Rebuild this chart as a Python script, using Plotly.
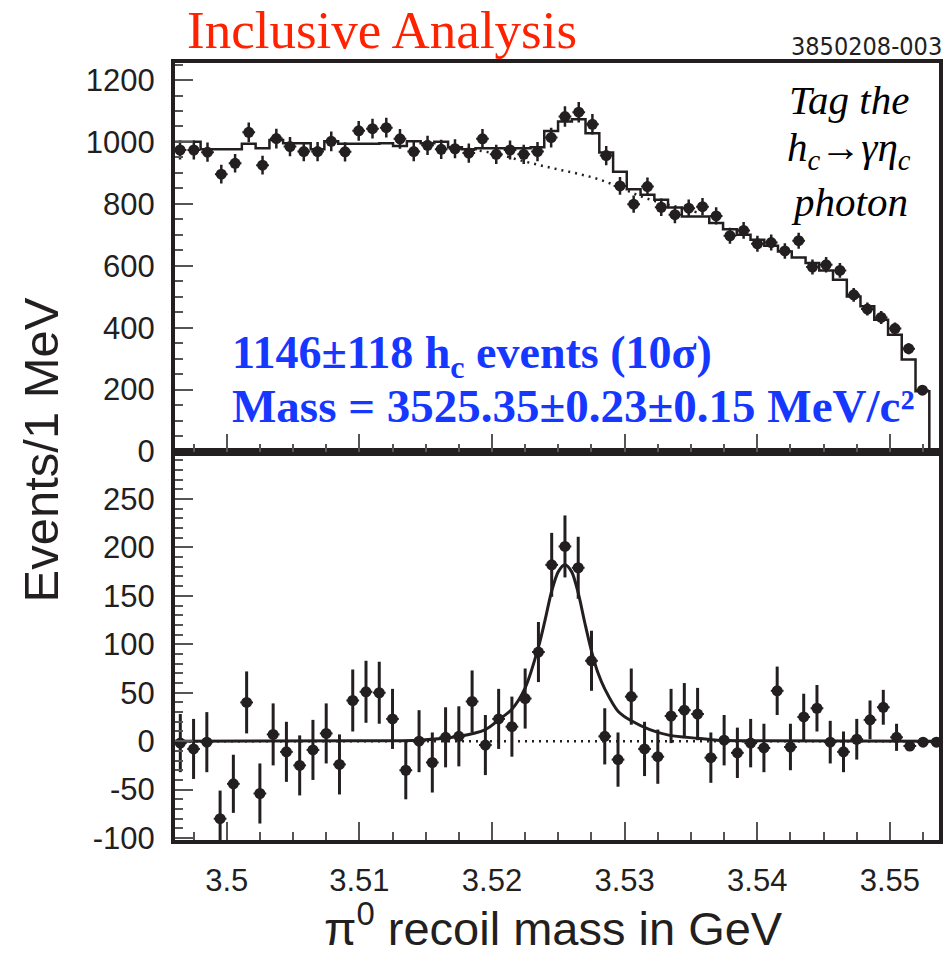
import plotly.graph_objects as go

# ---------------- data ----------------
# top panel: data points (bin centres, counts, errors)
top_x = [3.49648, 3.49752, 3.49855, 3.49959, 3.50063, 3.50166, 3.50270, 3.50374, 3.50477, 3.50581,
         3.50685, 3.50788, 3.50892, 3.50995, 3.51099, 3.51203, 3.51306, 3.51410, 3.51514, 3.51617,
         3.51721, 3.51825, 3.51928, 3.52032, 3.52136, 3.52239, 3.52343, 3.52446, 3.52550, 3.52654,
         3.52757, 3.52861, 3.52965, 3.53068, 3.53172, 3.53276, 3.53379, 3.53483, 3.53587, 3.53690,
         3.53794, 3.53897, 3.54001, 3.54105, 3.54208, 3.54312, 3.54416, 3.54519, 3.54623, 3.54727,
         3.54830, 3.54934, 3.55038, 3.55141, 3.55245]
top_y = [974, 974, 967, 896, 931, 1031, 925, 1011, 985, 969,
         969, 1002, 968, 1036, 1043, 1046, 1010, 969, 989, 976,
         978, 964, 1010, 960, 974, 960, 969, 1014, 1082, 1096,
         1057, 956, 858, 799, 856, 789, 765, 786, 791, 761,
         697, 714, 671, 675, 648, 681, 596, 603, 585, 506,
         460, 433, 397, 332, 198]
top_err = [31, 31, 31, 30, 30, 32, 30, 32, 31, 31,
           31, 32, 31, 32, 32, 32, 32, 31, 31, 31,
           31, 31, 32, 31, 31, 31, 31, 32, 33, 33,
           33, 31, 29, 28, 29, 28, 28, 28, 28, 28,
           26, 27, 26, 26, 25, 26, 24, 25, 24, 22,
           21, 21, 20, 18, 14]
# top panel: fitted histogram (signal + background), one value per bin
top_fit = [1001, 1001, 976, 976, 976, 994, 980, 1006, 996, 996,
           976, 1002, 994, 994, 994, 996, 987, 1002, 996, 1001,
           983, 976, 980, 980, 980, 980, 983, 1035, 1066, 1073,
           1028, 966, 904, 847, 829, 813, 788, 759, 759, 738,
           718, 700, 684, 665, 646, 627, 609, 585, 555, 501,
           469, 426, 377, 297, 195]
# top panel: background-only (dotted) curve
top_bkg_x = [3.5175, 3.5190, 3.5205, 3.5220, 3.5235, 3.5250, 3.5265, 3.5280, 3.5295, 3.5310, 3.5325, 3.5340, 3.5355]
top_bkg_y = [980, 972, 960, 942, 926, 911, 897, 880, 856, 828, 806, 790, 772]

# bottom panel: background-subtracted points
bot_x = [3.4965, 3.4975, 3.4985, 3.4995, 3.5005, 3.5015, 3.5025, 3.5035, 3.5045, 3.5055,
         3.5065, 3.5075, 3.5085, 3.5095, 3.5105, 3.5115, 3.5125, 3.5135, 3.5145, 3.5155,
         3.5165, 3.5175, 3.5185, 3.5195, 3.5205, 3.5215, 3.5225, 3.5235, 3.5245, 3.5255,
         3.5265, 3.5275, 3.5285, 3.5295, 3.5305, 3.5315, 3.5325, 3.5335, 3.5345, 3.5355,
         3.5365, 3.5375, 3.5385, 3.5395, 3.5405, 3.5415, 3.5425, 3.5435, 3.5445, 3.5455,
         3.5465, 3.5475, 3.5485, 3.5495, 3.5505, 3.5515, 3.5525, 3.5535]
bot_y = [-2, -8, -1, -80, -44, 40, -54, 7, -11, -25,
         -9, 8, -24, 42, 51, 50, 23, -30, 0, -22,
         4, 5, 41, -4, 23, 15, 44, 92, 182, 201,
         179, 83, 5, -19, 46, -8, -16, 26, 32, 28,
         -17, 1, -12, -2, -7, 52, -6, 25, 34, -1,
         -11, 2, 22, 35, 4, -5, -1, -1]
bot_err = [30, 31, 31, 29, 30, 32, 31, 32, 31, 31,
           31, 31, 31, 32, 32, 32, 31, 30, 32, 31,
           31, 31, 32, 31, 31, 31, 31, 31, 33, 32,
           32, 31, 29, 28, 29, 28, 28, 28, 28, 27,
           26, 26, 26, 25, 25, 25, 24, 24, 24, 22,
           21, 21, 20, 18, 14, 3, 0, 0]
# bottom panel: signal fit curve (sampled)
bot_fit_x = [3.4961, 3.5100, 3.5145, 3.5175, 3.5195, 3.5205, 3.5215, 3.5225, 3.5235, 3.5240,
             3.5245, 3.5250, 3.5255, 3.5260, 3.5265, 3.5270, 3.5275, 3.5280, 3.5285, 3.5295,
             3.5305, 3.5319, 3.5334, 3.5355, 3.5370, 3.5400, 3.5537]
bot_fit_y = [0, 0.5, 1, 5, 12, 22, 33, 55, 97, 125,
             155, 175, 182, 175, 153, 122, 93, 70, 54, 31,
             21, 12, 6, 3, 1, 0.5, 0]
bot_bkg_x = [3.4961, 3.5537]
bot_bkg_y = [0, 0]

# tick labels
x_tickvals = [3.50, 3.51, 3.52, 3.53, 3.54, 3.55]
x_ticktext = ["3.5", "3.51", "3.52", "3.53", "3.54", "3.55"]
top_tickvals = [0, 200, 400, 600, 800, 1000, 1200]
top_ticktext = ["0", "200", "400", "600", "800", "1000", "1200"]
bot_tickvals = [-100, -50, 0, 50, 100, 150, 200, 250]
bot_ticktext = ["-100", "-50", "0", "50", "100", "150", "200", "250"]

# axis settings
x_range = [3.4961, 3.5537]
top_range = [0, 1255]
bot_range = [-102, 299]

INK = "#231f20"

# ---------------- figure ----------------
fig = go.Figure()

# top histogram (step) built from bin centres
w = top_x[1] - top_x[0]
edges = [c - w / 2 for c in top_x] + [top_x[-1] + w / 2]
step_x = edges + [edges[-1]]
step_y = top_fit + [top_fit[-1], 0]
fig.add_trace(go.Scatter(x=step_x, y=step_y, mode="lines", line=dict(color=INK, width=2.5, shape="hv"),
                         xaxis="x2", yaxis="y2", showlegend=False, hoverinfo="skip"))
fig.add_trace(go.Scatter(x=top_bkg_x, y=top_bkg_y, mode="lines",
                         line=dict(color=INK, width=2.5, dash="2px,5px", shape="spline"),
                         xaxis="x2", yaxis="y2", showlegend=False, hoverinfo="skip"))
fig.add_trace(go.Scatter(x=top_x, y=top_y, mode="markers",
                         marker=dict(color=INK, size=11, symbol="circle"),
                         error_y=dict(type="data", array=top_err, color=INK, thickness=2.5, width=0),
                         error_x=dict(type="constant", value=0.00048, color=INK, thickness=2, width=0),
                         xaxis="x2", yaxis="y2", showlegend=False))

# bottom panel
fig.add_trace(go.Scatter(x=bot_bkg_x, y=bot_bkg_y, mode="lines",
                         line=dict(color=INK, width=2.5, dash="2px,5px"),
                         xaxis="x", yaxis="y", showlegend=False, hoverinfo="skip"))
fig.add_trace(go.Scatter(x=bot_fit_x, y=bot_fit_y, mode="lines",
                         line=dict(color=INK, width=3, shape="spline", smoothing=0.8),
                         xaxis="x", yaxis="y", showlegend=False, hoverinfo="skip"))
fig.add_trace(go.Scatter(x=bot_x, y=bot_y, mode="markers",
                         marker=dict(color=INK, size=11, symbol="circle"),
                         error_y=dict(type="data", array=bot_err, color=INK, thickness=3, width=0),
                         error_x=dict(type="constant", value=0.00048, color=INK, thickness=2, width=0),
                         xaxis="x", yaxis="y", showlegend=False))

tickfont = dict(family="Liberation Sans, Arial, sans-serif", size=31, color=INK)
common_axis = dict(showline=True, linewidth=4, linecolor=INK, mirror=True, ticks="inside",
                   tickwidth=1.5, tickcolor="#555555", ticklen=18, showgrid=False, zeroline=False,
                   tickfont=tickfont)
minor_x = dict(dtick=0.0025, tick0=3.5, ticklen=8, tickwidth=1.5, tickcolor="#555555", ticks="inside")

fig.update_layout(
    width=952, height=954,
    margin=dict(l=175, r=9, t=63, b=114),
    paper_bgcolor="white", plot_bgcolor="white",
    xaxis=dict(domain=[0, 1], anchor="y", range=x_range, tickmode="array",
               tickvals=x_tickvals, ticktext=x_ticktext, minor=minor_x,
               ticklabelstandoff=10, **common_axis),
    xaxis2=dict(domain=[0, 1], anchor="y2", range=x_range, tickmode="array",
                tickvals=x_tickvals, ticktext=x_ticktext, matches="x",
                showticklabels=False, minor=minor_x, **common_axis),
    yaxis=dict(domain=[0, 0.5], anchor="x", range=bot_range, tickmode="array",
               tickvals=bot_tickvals, ticktext=bot_ticktext,
               minor=dict(dtick=10, tick0=0, ticklen=8, tickwidth=1.5, tickcolor="#555555", ticks="inside"),
               ticklabelstandoff=10, **common_axis),
    yaxis2=dict(domain=[0.5, 1], anchor="x2", range=top_range, tickmode="array",
                tickvals=top_tickvals, ticktext=top_ticktext,
                minor=dict(dtick=50, tick0=0, ticklen=8, tickwidth=1.5, tickcolor="#555555", ticks="inside"),
                ticklabelstandoff=10, **common_axis),
)

serif = "Liberation Serif, Times New Roman, serif"
sans = "Liberation Sans, Arial, sans-serif"
ann = []
ann.append(dict(text="Inclusive Analysis", xref="paper", yref="paper", x=0.013, y=1.043,
                xanchor="left", yanchor="middle", showarrow=False,
                font=dict(family=serif, size=53, color="#ff2200")))
ann.append(dict(text="3850208-003", xref="paper", yref="paper", x=1.006, y=1.0206,
                xanchor="right", yanchor="middle", showarrow=False,
                font=dict(family="Liberation Sans Narrow, DejaVu Sans Condensed, sans-serif", size=25, color=INK)))
ann.append(dict(text="<i>Tag the</i>", xref="x2", yref="y2", x=3.54693, y=1135,
                xanchor="center", yanchor="middle", showarrow=False,
                font=dict(family=serif, size=41, color="black")))
ann.append(dict(text="<i>h<sub>c</sub>→γη<sub>c</sub></i>", xref="x2", yref="y2", x=3.54693, y=975,
                xanchor="center", yanchor="middle", showarrow=False,
                font=dict(family=serif, size=41, color="black")))
ann.append(dict(text="<i>photon</i>", xref="x2", yref="y2", x=3.54693, y=805,
                xanchor="center", yanchor="middle", showarrow=False,
                font=dict(family=serif, size=41, color="black")))
ann.append(dict(text="<b>1146±118 h<sub>c</sub> events (10σ)</b>", xref="x2", yref="y2", x=3.50022, y=309,
                xanchor="left", yanchor="middle", showarrow=False,
                font=dict(family=serif, size=46, color="#1637ff")))
ann.append(dict(text="<b>Mass = 3525.35±0.23±0.15 MeV/c²</b>", xref="x2", yref="y2", x=3.50022, y=148,
                xanchor="left", yanchor="middle", showarrow=False,
                font=dict(family=serif, size=47, color="#1637ff")))
ann.append(dict(text="Events/1 MeV", xref="paper", yref="paper", x=-0.176, y=0.502,
                xanchor="center", yanchor="middle", textangle=-90, showarrow=False,
                font=dict(family=sans, size=49, color=INK)))
ann.append(dict(text="π<sup>0</sup> recoil mass in GeV", xref="paper", yref="paper", x=0.4948, y=-0.109,
                xanchor="center", yanchor="middle", showarrow=False,
                font=dict(family=sans, size=47, color=INK)))
fig.update_layout(annotations=ann)

fig.write_html("out.html")
